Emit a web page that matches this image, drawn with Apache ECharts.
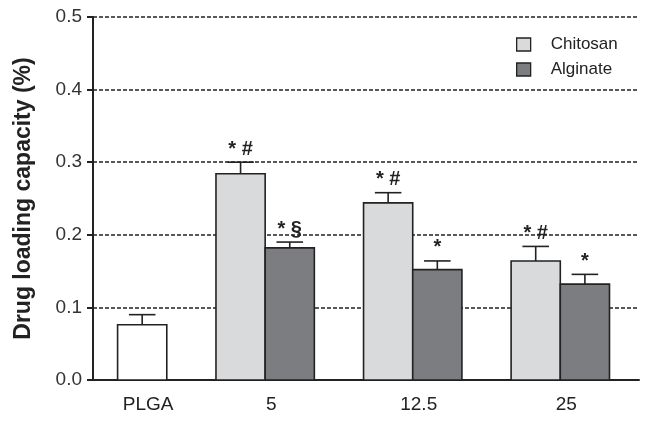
<!DOCTYPE html>
<html>
<head>
<meta charset="utf-8">
<script src="https://cdn.jsdelivr.net/npm/echarts@6/dist/echarts.min.js"></script>
<style>html,body{margin:0;padding:0;background:#fff;}#c{width:650px;height:424px;}</style>
</head>
<body>
<div id="c"></div>
<script>
// Category labels and their positions on the x scale (in bar-width units)
var categories = ['PLGA', '5', '12.5', '25'];
var categoryPos = [0, 2.5, 5.5, 8.5];

// PLGA control
var plgaValues = [0.076];
var plgaErrors = [0.014];

// Chitosan series (5, 12.5, 25)
var chitosanValues = [0.284, 0.244, 0.164];
var chitosanErrors = [0.016, 0.014, 0.020];
var chitosanMarks = ['* #', '* #', '* #'];

// Alginate series (5, 12.5, 25)
var alginateValues = [0.182, 0.152, 0.132];
var alginateErrors = [0.008, 0.012, 0.0135];
var alginateMarks = ['* \u00A7', '*', '*'];

var yTicks = [0, 0.1, 0.2, 0.3, 0.4, 0.5];

var FONT = '"Liberation Sans", Arial, Helvetica, sans-serif';
var INK = '#222222';

function makeRender(fill, marks) {
  return function (params, api) {
    var x = api.value(0), y = api.value(1), e = api.value(2);
    var tl = api.coord([x - 0.5, y]);
    var br = api.coord([x + 0.5, 0]);
    var cx = (tl[0] + br[0]) / 2;
    var top = api.coord([x, y + e]);
    var capHalf = api.size([0.27, 0])[0];
    var children = [
      { type: 'line', shape: { x1: cx, y1: tl[1], x2: cx, y2: top[1] }, style: { stroke: INK, lineWidth: 1.6 } },
      { type: 'line', shape: { x1: cx - capHalf, y1: top[1], x2: cx + capHalf, y2: top[1] }, style: { stroke: INK, lineWidth: 1.6 } },
      { type: 'rect', shape: { x: tl[0], y: tl[1], width: br[0] - tl[0], height: br[1] - tl[1] }, style: { fill: fill, stroke: INK, lineWidth: 1.6 } }
    ];
    if (marks && marks[params.dataIndex]) {
      children.push({ type: 'text', style: { x: cx, y: top[1] - 3, text: marks[params.dataIndex], font: 'bold 20px ' + FONT, fill: INK, align: 'center', verticalAlign: 'bottom' } });
    }
    return { type: 'group', children: children };
  };
}

function buildData(values, errors, offset, positions) {
  return values.map(function (v, i) { return [positions[i] + offset, v, errors[i]]; });
}

var chart = echarts.init(document.getElementById('c'), null, { renderer: 'canvas' });
chart.setOption({
  animation: false,
  backgroundColor: '#ffffff',
  grid: { left: 93, right: 11, top: 17, bottom: 44 },
  legend: {
    data: ['Chitosan', 'Alginate'],
    orient: 'vertical',
    left: 516,
    top: 36,
    padding: 0,
    itemWidth: 14,
    itemHeight: 13,
    itemGap: 8,
    icon: 'rect',
    itemStyle: { borderColor: INK, borderWidth: 1.3 },
    textStyle: { fontFamily: FONT, fontSize: 17, color: INK, padding: [0, 0, 0, 15] }
  },
  xAxis: {
    type: 'value',
    min: -1,
    max: 10.1,
    interval: 0.5,
    axisLine: { show: true, onZero: false, lineStyle: { color: INK, width: 2 } },
    axisTick: { show: false },
    splitLine: { show: false },
    axisLabel: {
      margin: 15,
      fontFamily: FONT,
      fontSize: 19,
      color: INK,
      padding: [0, 0, 0, 12],
      showMinLabel: true,
      showMaxLabel: true,
      formatter: function (v) {
        for (var i = 0; i < categoryPos.length; i++) {
          if (Math.abs(v - categoryPos[i]) < 1e-6) return categories[i];
        }
        return '';
      }
    }
  },
  yAxis: {
    type: 'value',
    min: yTicks[0],
    max: yTicks[yTicks.length - 1],
    interval: 0.1,
    name: 'Drug loading capacity (%)',
    nameLocation: 'middle',
    nameGap: 58,
    nameTextStyle: { fontFamily: FONT, fontSize: 23, fontWeight: 'bold', color: INK },
    axisLine: { show: true, onZero: false, lineStyle: { color: INK, width: 2 } },
    axisTick: { show: true, length: 6, lineStyle: { color: INK, width: 2 } },
    axisLabel: {
      margin: 11,
      fontFamily: FONT,
      fontSize: 19,
      color: '#333333',
      formatter: function (v) { return v.toFixed(1); }
    },
    splitLine: { show: true, lineStyle: { color: INK, width: 1.5, type: [4, 2] } }
  },
  series: [
    {
      name: 'PLGA',
      type: 'custom',
      itemStyle: { color: '#ffffff' },
      renderItem: makeRender('#ffffff', null),
      encode: { x: 0, y: 1 },
      data: buildData(plgaValues, plgaErrors, 0, [categoryPos[0]]),
      z: 3
    },
    {
      name: 'Chitosan',
      type: 'custom',
      itemStyle: { color: '#d9dadc' },
      renderItem: makeRender('#d9dadc', chitosanMarks),
      encode: { x: 0, y: 1 },
      data: buildData(chitosanValues, chitosanErrors, -0.5, categoryPos.slice(1)),
      z: 3
    },
    {
      name: 'Alginate',
      type: 'custom',
      itemStyle: { color: '#7c7d81' },
      renderItem: makeRender('#7c7d81', alginateMarks),
      encode: { x: 0, y: 1 },
      data: buildData(alginateValues, alginateErrors, 0.5, categoryPos.slice(1)),
      z: 3
    }
  ]
});
</script>
</body>
</html>
